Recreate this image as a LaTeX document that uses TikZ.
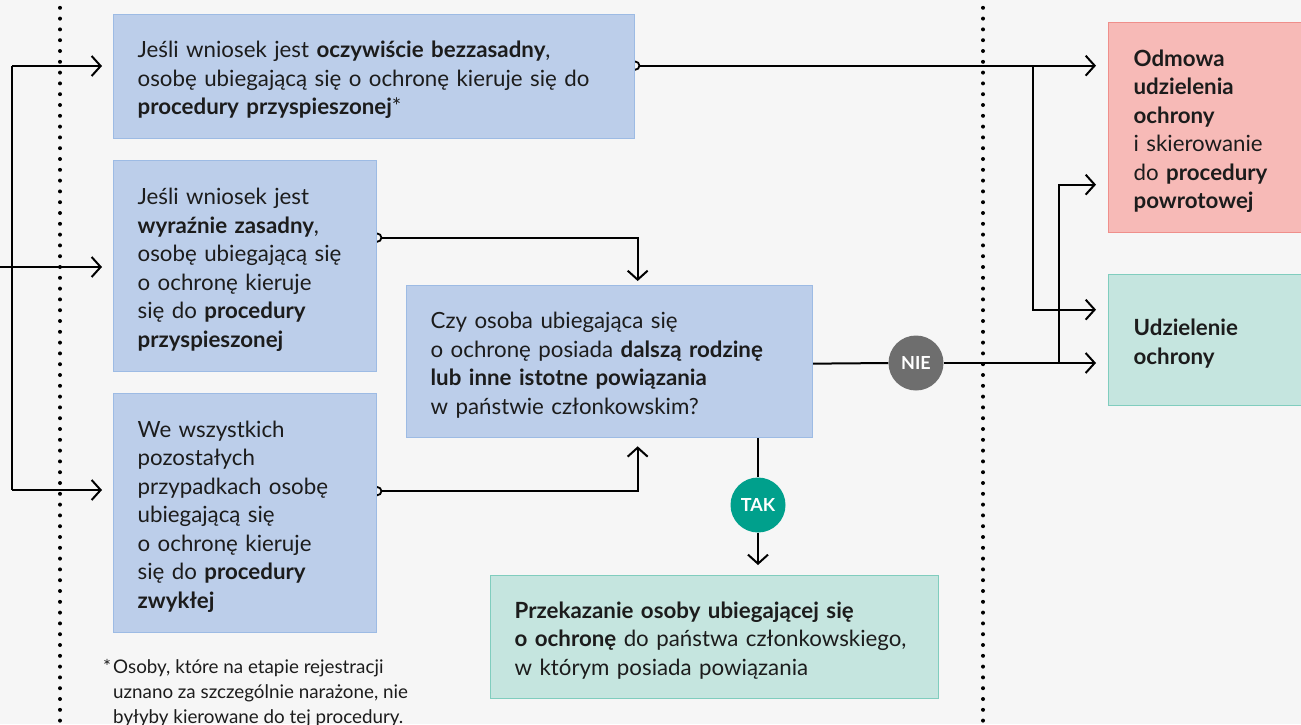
\documentclass[tikz,border=0pt]{standalone}
\usepackage{fontspec}
\setmainfont{Lato}
\usetikzlibrary{arrows.meta,positioning,calc}
\definecolor{bgc}{HTML}{F6F6F6}
\definecolor{bluef}{HTML}{BCCEEA}
\definecolor{blued}{HTML}{9DBBE4}
\definecolor{pinkf}{HTML}{F7BAB7}
\definecolor{pinkd}{HTML}{EF8F8B}
\definecolor{greenf}{HTML}{C5E5DF}
\definecolor{greend}{HTML}{80CDBE}
\definecolor{niec}{HTML}{6E6E6E}
\definecolor{takc}{HTML}{00A08C}
\definecolor{txt}{HTML}{1C1C1C}
\pgfdeclarelayer{bg}
\pgfsetlayers{bg,main}
\newcommand{\oneline}[1]{\mbox{#1}}
\begin{document}
\begin{tikzpicture}[x=1pt,y=-1pt,
  box/.style={draw, line width=1.3pt, inner xsep=24pt, inner ysep=0pt, align=left,
    anchor=north west, text=txt, font=\fontsize{22.3}{28.5}\selectfont,
    execute at begin node={\rule{0pt}{26pt}},
    execute at end node={\rule[-6.5pt]{0pt}{0pt}}},
  bluebox/.style={box, fill=bluef, draw=blued},
  pinkbox/.style={box, fill=pinkf, draw=pinkd},
  greenbox/.style={box, fill=greenf, draw=greend},
  badge/.style={circle, minimum size=55pt, inner sep=0pt, text=white,
    font=\fontsize{18}{20}\selectfont\bfseries},
  conn/.style={line width=2pt, draw=black},
  arr/.style={conn, -{Straight Barb[length=9pt,width=20pt]}},
  tail/.style={{Circle[open,length=10pt,width=10pt,line width=1.8pt]}-{Straight Barb[length=9pt,width=20pt]}, shorten <=-5pt},
  dotline/.style={line width=4pt, line cap=round, dash pattern=on 0pt off 10.8pt}
]
\useasboundingbox (0,0) rectangle (1301,724);
\begin{pgfonlayer}{bg}
\fill[bgc] (0,0) rectangle (1301,724);
\draw[dotline] (60,-3) -- (60,730);
\draw[dotline] (983,-3) -- (983,730);
\end{pgfonlayer}

% boxes
\node[bluebox, text width=473pt, minimum height=124pt] (A) at (113,14)
  {\oneline{Jeśli wniosek jest \textbf{oczywiście bezzasadny},}\\
   \oneline{osobę ubiegającą się o ochronę kieruje się do}\\
   \oneline{\textbf{procedury przyspieszonej}*}};
\node[bluebox, text width=215pt, minimum height=211pt] (B) at (113,160)
  {Jeśli wniosek jest\\
   \textbf{wyraźnie zasadny},\\
   \oneline{osobę ubiegającą się}\\
   o ochronę kieruje\\
   się do \textbf{procedury}\\
   \textbf{przyspieszonej}};
\node[bluebox, text width=215pt, minimum height=239pt] (C) at (113,393)
  {We wszystkich\\
   pozostałych\\
   \oneline{przypadkach osobę}\\
   ubiegającą się\\
   o ochronę kieruje\\
   się do \textbf{procedury}\\
   \textbf{zwykłej}};
\node[bluebox, text width=358pt, minimum height=152pt] (D) at (406,285)
  {\oneline{Czy osoba ubiegająca się}\\
   \oneline{o ochronę posiada \textbf{dalszą rodzinę}}\\
   \oneline{\textbf{lub inne istotne powiązania}}\\
   \oneline{w państwie członkowskim?}};
\node[greenbox, text width=400pt, minimum height=123pt] (E) at (490,575)
  {\oneline{\textbf{Przekazanie osoby ubiegającej się}}\\
   \oneline{\textbf{o ochronę} do państwa członkowskiego,}\\
   \oneline{w którym posiada powiązania}};
\node[pinkbox, inner xsep=25pt, text width=160pt, minimum height=210pt] (F) at (1108,22)
  {\textbf{Odmowa}\\
   \textbf{udzielenia}\\
   \textbf{ochrony}\\
   \oneline{i skierowanie}\\
   \oneline{do \textbf{procedury}}\\
   \textbf{powrotowej}};
\node[greenbox, inner xsep=25pt, text width=160pt, minimum height=131pt] (G) at (1108,274)
  {\textbf{Udzielenie}\\
   \textbf{ochrony}};

% badges
\node[badge, fill=niec] (nie) at (916,363) {NIE};
\node[badge, fill=takc] (tak) at (758,505) {TAK};

% footnote
\node[anchor=north west, inner sep=0pt, align=left, text=txt,
  font=\fontsize{18.8}{25}\selectfont] (note) at (113,659)
  {\llap{*\hspace{2pt}}\oneline{Osoby, które na etapie rejestracji}\\
   \oneline{uznano za szczególnie narażone, nie}\\
   \oneline{byłyby kierowane do tej procedury.}};

% connectors
\coordinate (t1) at (12,66);
\coordinate (t3) at (12,490);
\coordinate (lx0) at (0,267);
\coordinate (b1) at (1033,65);
\coordinate (b2) at (1059,363);
\begin{pgfonlayer}{bg}
\draw[conn] (t1) -- (t3);
\draw[arr, shorten >=11pt] (t1) -- (t1 -| A.west);
\draw[arr, shorten >=11pt] (t3) -- (t3 -| C.west);
\draw[arr, shorten >=11pt] (lx0) -- (lx0 -| B.west);
\draw[conn, tail, shorten >=12pt] ([yshift=11pt]A.east) -- ([yshift=11pt]A.east -| F.west);
\draw[arr, shorten >=12pt] (b1) |- ([yshift=30.5pt]G.west);
\draw[conn, tail, shorten >=4pt] ([yshift=28.5pt]B.east) -| ([xshift=28pt]D.north);
\draw[conn, tail, shorten >=8pt] ([yshift=22pt]C.east) -| ([xshift=28pt]D.south);
\draw[conn, tail, -] ([yshift=-2pt]D.east) -- (nie.west);
\draw[arr, shorten >=12pt] (nie.east) -- (nie.east -| G.west);
\draw[arr, shorten >=12pt] (b2) |- ([yshift=-57pt]F.west);
\draw[conn] (tak.north |- D.south) -- (tak.north);
\draw[arr, shorten >=10pt] (tak.south) -- (tak.south |- E.north);
\end{pgfonlayer}
\end{tikzpicture}
\end{document}
